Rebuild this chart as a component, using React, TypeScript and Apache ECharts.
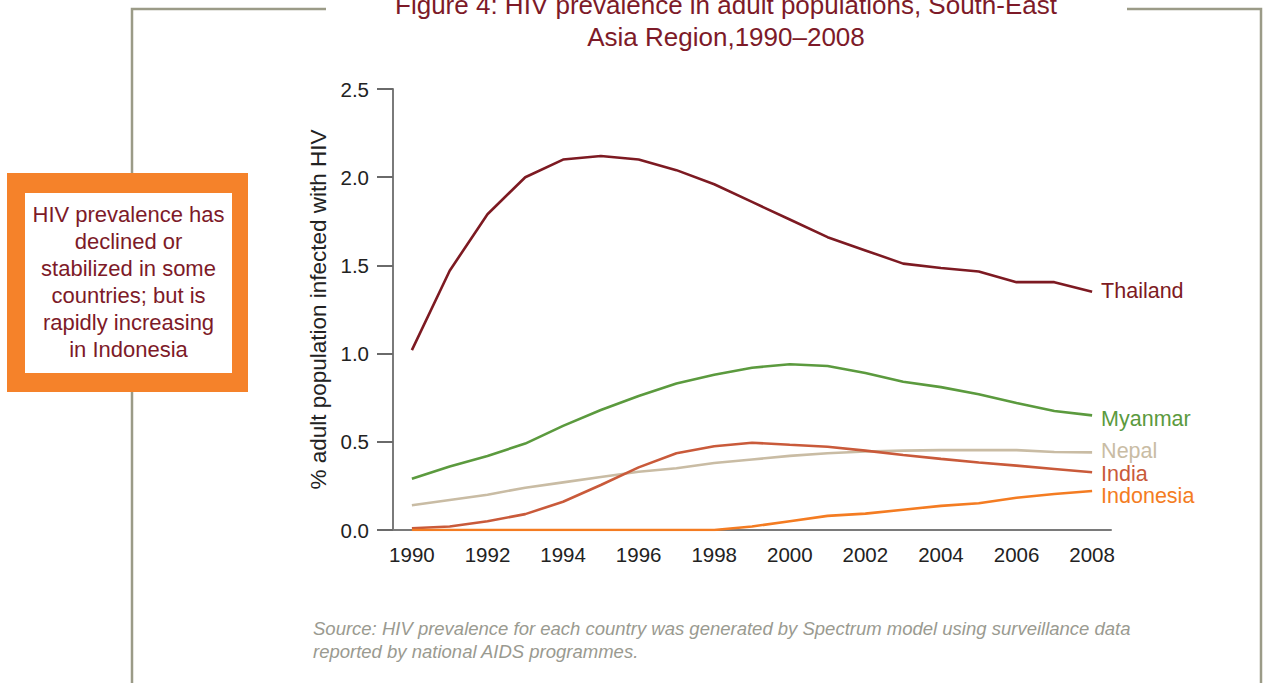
import React, { useEffect, useRef } from "react";
import * as echarts from "echarts";

const years = ["1990","1991","1992","1993","1994","1995","1996","1997","1998","1999","2000","2001","2002","2003","2004","2005","2006","2007","2008"];
const thailand = [1.02, 1.47, 1.79, 2.0, 2.1, 2.12, 2.1, 2.04, 1.96, 1.86, 1.76, 1.66, 1.585, 1.51, 1.485, 1.465, 1.405, 1.405, 1.35];
const myanmar = [0.29, 0.36, 0.42, 0.49, 0.59, 0.68, 0.76, 0.83, 0.88, 0.92, 0.94, 0.93, 0.89, 0.84, 0.81, 0.77, 0.72, 0.675, 0.65];
const nepal = [0.14, 0.17, 0.2, 0.24, 0.27, 0.3, 0.33, 0.35, 0.38, 0.4, 0.42, 0.435, 0.445, 0.45, 0.453, 0.453, 0.453, 0.442, 0.44];
const india = [0.01, 0.02, 0.05, 0.09, 0.16, 0.255, 0.355, 0.435, 0.475, 0.495, 0.483, 0.472, 0.45, 0.425, 0.403, 0.383, 0.365, 0.346, 0.327];
const indonesia = [0, 0, 0, 0, 0, 0, 0, 0, 0, 0.02, 0.05, 0.08, 0.093, 0.115, 0.137, 0.152, 0.183, 0.204, 0.221];
const yTicks = [0, 0.5, 1.0, 1.5, 2.0, 2.5];

const titleText = "Figure 4: HIV prevalence in adult populations, South-East\nAsia Region,1990–2008";
const boxText = "HIV prevalence has\ndeclined or\nstabilized in some\ncountries; but is\nrapidly increasing\nin Indonesia";
const sourceText = "Source: HIV prevalence for each country was generated by Spectrum model using surveillance data\nreported by national AIDS programmes.";

const FONT = "'Liberation Sans', Arial, Helvetica, sans-serif";

export default function App() {
  const ref = useRef<HTMLDivElement>(null);
  useEffect(() => {
    if (!ref.current) return;
    const chart = echarts.init(ref.current, null, { renderer: "svg" });
    const mk = (name: string, data: number[], color: string, dy: number) => ({
      name,
      type: "line",
      data,
      symbol: "none",
      smooth: false,
      lineStyle: { color, width: 2.6 },
      itemStyle: { color },
      z: 3,
      endLabel: {
        show: true,
        formatter: "{a}",
        color,
        fontSize: 21.5,
        fontFamily: FONT,
        distance: 9,
        offset: [0, dy],
      },
    });
    chart.setOption({
      animation: false,
      backgroundColor: "#ffffff",
      textStyle: { fontFamily: FONT },
      grid: { left: 393, right: 153, top: 89, bottom: 153, containLabel: false },
      xAxis: {
        type: "category",
        data: years,
        boundaryGap: true,
        axisLine: { lineStyle: { color: "#7a7a7a", width: 2 } },
        axisTick: { interval: 0, length: 8, lineStyle: { color: "#3a3a3a", width: 2 } },
        axisLabel: { interval: 1, color: "#222", fontSize: 20.5, margin: 14, fontFamily: FONT },
        splitLine: { show: false },
      },
      yAxis: {
        type: "value",
        min: 0,
        max: 2.5,
        interval: 0.5,
        name: "% adult population infected with HIV",
        nameLocation: "middle",
        nameRotate: 90,
        nameGap: 63,
        nameTextStyle: { color: "#222", fontSize: 22.5, fontFamily: FONT },
        axisLine: { show: true, lineStyle: { color: "#7a7a7a", width: 2 } },
        axisTick: { show: true, length: 16, lineStyle: { color: "#6a6a6a", width: 2 } },
        axisLabel: {
          color: "#222",
          fontSize: 20.5,
          margin: 24,
          fontFamily: FONT,
          formatter: (v: number) => (yTicks.includes(v) ? v.toFixed(1) : ""),
        },
        splitLine: { show: false },
      },
      series: [
        mk("Thailand", thailand, "#7d1a22", -1),
        mk("Myanmar", myanmar, "#5b9a3e", 4),
        mk("Nepal", nepal, "#c9bca4", -1),
        mk("India", india, "#c95a3a", 2),
        mk("Indonesia", indonesia, "#f47c22", 5),
      ],
      graphic: [
        {
          type: "polyline",
          shape: { points: [[132, 683], [132, 9], [326, 9]] },
          style: { stroke: "#9b9b87", lineWidth: 2.5, fill: null },
          z: 1,
        },
        {
          type: "polyline",
          shape: { points: [[1127, 9], [1261, 9], [1261, 683]] },
          style: { stroke: "#9b9b87", lineWidth: 2.5, fill: null },
          z: 1,
        },
        {
          type: "rect",
          shape: { x: 7, y: 173, width: 241, height: 219 },
          style: { fill: "#f5822a" },
          z: 5,
        },
        {
          type: "rect",
          shape: { x: 25, y: 193, width: 207, height: 180 },
          style: { fill: "#ffffff" },
          z: 6,
        },
        {
          type: "text",
          x: 128.5,
          y: 201,
          z: 7,
          style: {
            text: boxText,
            fill: "#7d1a28",
            font: "22px " + FONT,
            lineHeight: 27,
            textAlign: "center",
            textVerticalAlign: "top",
          },
        },
        {
          type: "text",
          x: 726,
          y: -11.5,
          z: 7,
          style: {
            text: titleText,
            fill: "#7d1a28",
            font: "26px " + FONT,
            lineHeight: 32,
            textAlign: "center",
            textVerticalAlign: "top",
          },
        },
        {
          type: "text",
          x: 313,
          y: 616.5,
          z: 7,
          style: {
            text: sourceText,
            fill: "#9a9a90",
            font: "italic 18.5px " + FONT,
            lineHeight: 23,
            textAlign: "left",
            textVerticalAlign: "top",
          },
        },
      ],
    });
    return () => chart.dispose();
  }, []);
  return (
    <div
      ref={ref}
      style={{ position: "absolute", left: 0, top: 0, width: 1264, height: 683 }}
    />
  );
}
